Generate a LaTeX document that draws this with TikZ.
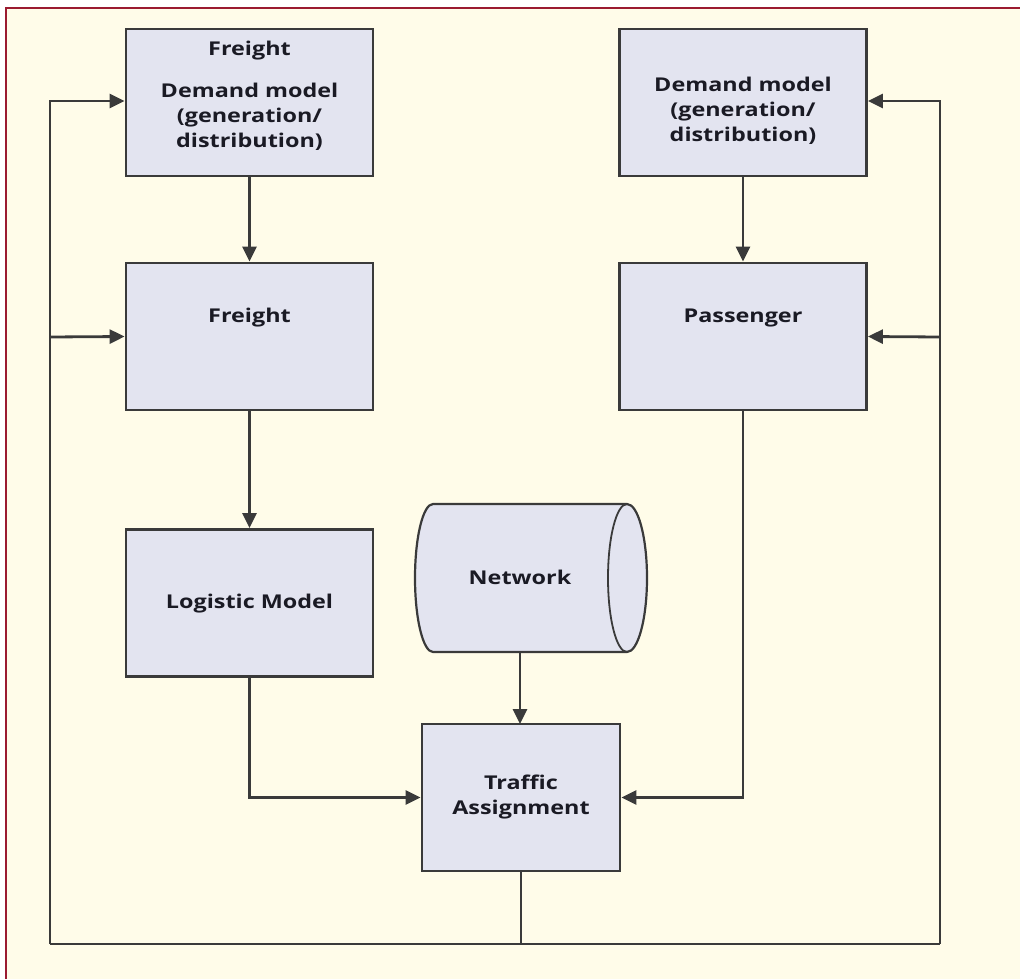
\documentclass[tikz,border=0pt]{standalone}
\usepackage{fontspec}
\setmainfont{Open Sans}[FakeStretch=1.23]
\usetikzlibrary{arrows.meta}
\definecolor{cream}{HTML}{FFFCE9}
\definecolor{frame}{HTML}{9B1B30}
\definecolor{boxfill}{HTML}{E3E4F0}
\definecolor{ink}{HTML}{3A3A3A}
\definecolor{txtc}{HTML}{1A1A24}
\tikzset{
  box/.style={draw=ink, line width=2.8pt, fill=boxfill, minimum width=247pt, minimum height=147pt, inner sep=0pt},
  tabox/.style={box, minimum width=198pt},
  txt/.style={font=\fontsize{19}{25}\selectfont\bfseries, text=txtc, align=center, inner sep=0pt},
  conn/.style={draw=ink, line width=2.8pt},
  arr/.style={conn, -{Triangle[length=15pt,width=14pt]}},
}
\begin{document}
\begin{tikzpicture}[x=1pt,y=-1pt]
\useasboundingbox (0,0) rectangle (1020,979);
\fill[white] (0,0) rectangle (1020,979);
\fill[cream] (5,8) rectangle (1020,979);
\draw[frame, line width=2.5pt] (6,979) -- (6,8) -- (1020,8);

% boxes
\node[box] (fdm) at (249.5,102.5) {};
\node[txt] (fdmt) at (249.5,96) {Freight\\[17pt]Demand model\\(generation/\\distribution)};
\node[box] (pdm) at (743,102.5) {};
\node[txt] (pdmt) at (743,111) {Demand model\\(generation/\\distribution)};
\node[box] (fr) at (249.5,336.5) {};
\node[txt] (frt) at (249.5,318) {Freight};
\node[box] (pa) at (743,336.5) {};
\node[txt] (pat) at (743,318) {Passenger};
\node[box] (lm) at (249.5,603) {};
\node[txt] (lmt) at (249.5,604) {Logistic Model};
\node[tabox] (ta) at (521,797.5) {};
\node[txt] (tat) at (521,797) {Traffic\\Assignment};

% network cylinder
\node[minimum width=230pt, minimum height=148pt, inner sep=0pt] (net) at (530,578) {};
\filldraw[draw=ink, line width=2.2pt, fill=boxfill]
  (433,504) -- (627,504) arc[start angle=90, end angle=-90, x radius=20, y radius=-74]
  -- (433,652) arc[start angle=-90, end angle=-270, x radius=18, y radius=-74] -- cycle;
\draw[ink, line width=1.8pt] (627,504) arc[start angle=90, end angle=270, x radius=19, y radius=-74];
\node[txt] (nett) at (520,577) {Network};

% connectors
\draw[arr] (fdm.south) -- (fr.north);
\draw[arr] (pdm.south) -- (pa.north);
\draw[arr] (fr.south) -- (lm.north);
\draw[arr] (520,652) -- (520,724);
\draw[arr] (lm.south) |- (ta.west);
\draw[arr] (pa.south) |- (ta.east);

\coordinate (bl) at (50,944);
\coordinate (br) at (940,944);
\draw[conn] (ta.south) -- (ta.south |- bl);
\draw[conn] (bl) -- (br);
\draw[arr] (bl) |- (fdm.west |- 0,101);
\draw[arr] (50,337) -- (fr.west);
\draw[arr] (br) |- (pdm.east |- 0,101);
\draw[arr] (940,337) -- (pa.east);
\end{tikzpicture}
\end{document}
